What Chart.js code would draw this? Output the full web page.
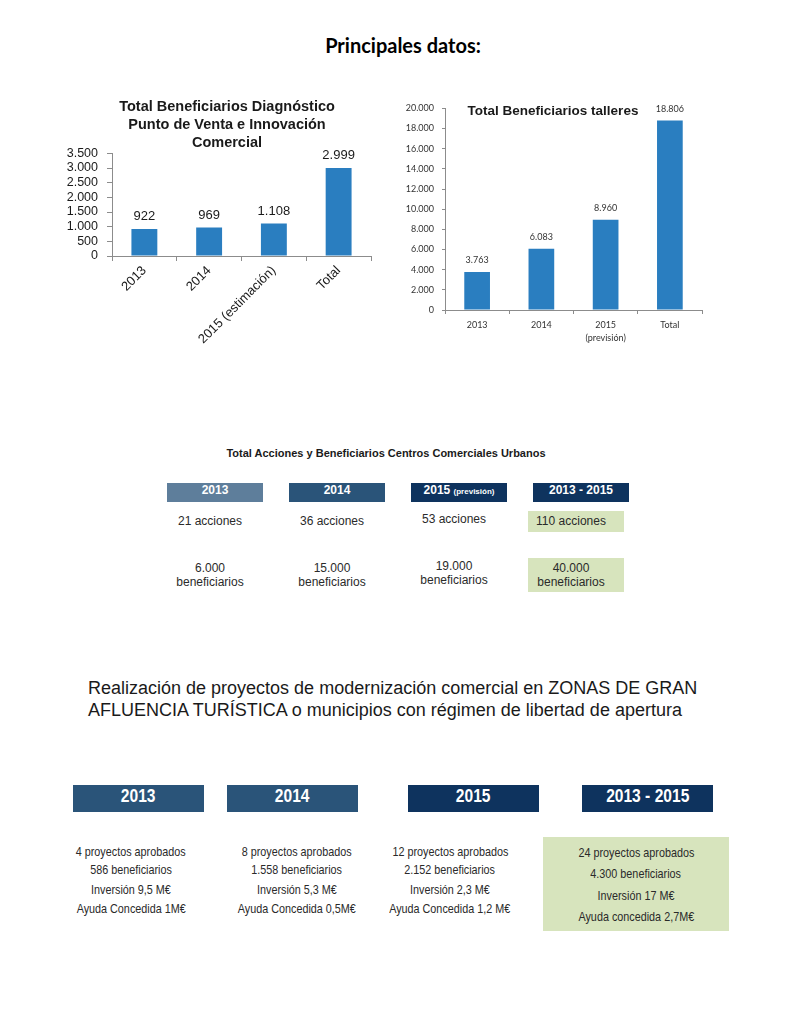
<!DOCTYPE html>
<html lang="es">
<head>
<meta charset="utf-8">
<script src="https://cdn.jsdelivr.net/npm/chart.js@4.4.1/dist/chart.umd.min.js"></script>
<style>
  html, body { margin: 0; padding: 0; background: #ffffff; }
  body { position: relative; width: 785px; height: 1024px; overflow: hidden; font-family: "Liberation Sans", Arial, sans-serif; }
  .abs { position: absolute; white-space: nowrap; }
  .ctr { text-align: center; }
  canvas { position: absolute; }
  .hdr { position: absolute; color: #ffffff; font-weight: bold; text-align: center; }
  .green { position: absolute; background: #d7e4bd; }
  .narrow { display: inline-block; transform: scaleX(0.8); transform-origin: center; }
</style>
</head>
<body>
<script>
// ---------- DATA ----------
const chart1Title = ['Total Beneficiarios Diagnóstico', 'Punto de Venta e Innovación', 'Comercial'];
const chart1Categories = ['2013', '2014', '2015 (estimación)', 'Total'];
const chart1Values = [922, 969, 1108, 2999];
const chart1AxisMax = 3500;
const chart1AxisStep = 500;

const chart2Title = 'Total Beneficiarios talleres';
const chart2Categories = ['2013', '2014', ['2015', '(previsión)'], 'Total'];
const chart2Values = [3763, 6083, 8960, 18806];
const chart2AxisMax = 20000;
const chart2AxisStep = 2000;

const pageTitle = 'Principales datos:';

const ccuTitle = 'Total Acciones y Beneficiarios Centros Comerciales Urbanos';
const ccuHeaders = ['2013', '2014', '2015', '2013 - 2015'];
const ccuHeaderNotes = ['', '', '(previsión)', ''];
const ccuAcciones = ['21 acciones', '36 acciones', '53 acciones', '110 acciones'];
const ccuBeneficiarios = ['6.000', '15.000', '19.000', '40.000'];
const ccuBenefWord = 'beneficiarios';

const zgatTitle = ['Realización de proyectos de modernización comercial en ZONAS DE GRAN',
                   'AFLUENCIA TURÍSTICA o municipios con régimen de libertad de apertura'];
const zgatHeaders = ['2013', '2014', '2015', '2013 - 2015'];
const zgatProyectos = ['4 proyectos aprobados', '8 proyectos aprobados', '12 proyectos aprobados', '24 proyectos aprobados'];
const zgatBeneficiarios = ['586 beneficiarios', '1.558 beneficiarios', '2.152 beneficiarios', '4.300 beneficiarios'];
const zgatInversion = ['Inversión 9,5 M€', 'Inversión 5,3 M€', 'Inversión 2,3 M€', 'Inversión 17 M€'];
const zgatAyuda = ['Ayuda Concedida 1M€', 'Ayuda Concedida 0,5M€', 'Ayuda Concedida 1,2 M€', 'Ayuda concedida 2,7M€'];

// ---------- HELPERS ----------
const fmt = v => String(v).replace(/\B(?=(\d{3})+(?!\d))/g, '.');
function el(tag, cls, css, html) {
  const e = document.createElement(tag);
  if (cls) e.className = cls;
  Object.assign(e.style, css);
  if (html !== undefined) e.innerHTML = html;
  document.body.appendChild(e);
  return e;
}
function textAt(text, cx, cy, font, color, lh) {
  lh = lh || 16;
  return el('div', 'abs ctr', {
    left: (cx - 200) + 'px', width: '400px', top: (cy - lh / 2) + 'px',
    lineHeight: lh + 'px', font: font, color: color || '#333333'
  }, text);
}

// ---------- PAGE TITLE ----------
textAt(pageTitle, 403, 45, 'bold 20px Lato, "Open Sans", sans-serif', '#000000', 24);

// ---------- CHARTS ----------
const BAR = '#2a7ec0';
const AXIS = '#8c8c8c';

const c1 = el('canvas', '', { left: '60px', top: '95px' });
c1.width = 334; c1.height = 261;
const c2 = el('canvas', '', { left: '390px', top: '95px' });
c2.width = 320; c2.height = 260;

function labelPlugin(font, color, gap) {
  return {
    id: 'valLabels',
    afterDatasetsDraw(chart) {
      const ctx = chart.ctx;
      const meta = chart.getDatasetMeta(0);
      const data = chart.data.datasets[0].data;
      ctx.save();
      ctx.font = font;
      ctx.fillStyle = color;
      ctx.textAlign = 'center';
      ctx.textBaseline = 'bottom';
      meta.data.forEach((bar, i) => ctx.fillText(fmt(data[i]), bar.x, bar.y - gap));
      ctx.restore();
    }
  };
}

Chart.defaults.animation = false;

new Chart(c1, {
  type: 'bar',
  data: {
    labels: chart1Categories,
    datasets: [{ data: chart1Values, backgroundColor: BAR, categoryPercentage: 1, barPercentage: 0.4 }]
  },
  options: {
    responsive: false, devicePixelRatio: 1,
    layout: { padding: 0 },
    plugins: {
      legend: { display: false }, tooltip: { enabled: false },
      title: {
        display: true, text: chart1Title, color: '#1a1a1a',
        font: { family: '"Liberation Sans", Arial', size: 14.5, weight: 'bold', lineHeight: 1.25 },
        padding: { top: 3, bottom: 1 }
      }
    },
    scales: {
      x: {
        grid: { display: true, drawOnChartArea: false, drawTicks: true, tickLength: 5, color: AXIS, offset: true },
        border: { display: true, color: AXIS },
        ticks: { minRotation: 45, maxRotation: 45, padding: 2, color: '#1a1a1a', autoSkip: false,
                 font: { family: '"Liberation Sans", Arial', size: 13 } },
        afterFit(s) { s.height = 100; s.paddingLeft = 0; s.paddingRight = 0; }
      },
      y: {
        min: 0, max: chart1AxisMax,
        grid: { display: true, drawOnChartArea: false, drawTicks: true, tickLength: 5, color: AXIS },
        border: { display: true, color: AXIS },
        ticks: { stepSize: chart1AxisStep, padding: 9, color: '#1a1a1a', autoSkip: false, callback: v => fmt(v),
                 font: { family: '"Liberation Sans", Arial', size: 12.5, lineHeight: 1 } },
        afterFit(s) { s.width = 52; }
      },
      yPad: {
        position: 'right', display: true,
        grid: { display: false }, border: { display: false }, ticks: { display: false },
        afterFit(s) { s.width = 23; }
      }
    }
  },
  plugins: [labelPlugin('13px "Liberation Sans", Arial', '#1a1a1a', 6)]
});

new Chart(c2, {
  type: 'bar',
  data: {
    labels: chart2Categories,
    datasets: [{ data: chart2Values, backgroundColor: BAR, categoryPercentage: 1, barPercentage: 0.4 }]
  },
  options: {
    responsive: false, devicePixelRatio: 1,
    layout: { padding: { top: 9, right: 8, left: 0, bottom: 0 } },
    plugins: { legend: { display: false }, tooltip: { enabled: false }, title: { display: false } },
    scales: {
      x: {
        grid: { display: true, drawOnChartArea: false, drawTicks: true, tickLength: 4, color: AXIS, offset: true },
        border: { display: true, color: AXIS },
        ticks: { maxRotation: 0, minRotation: 0, padding: 4, color: '#333333', autoSkip: false,
                 font: { family: 'Lato, "Open Sans", sans-serif', size: 9, lineHeight: 1.5 } },
        afterFit(s) { s.height = 45; s.paddingLeft = 0; s.paddingRight = 0; }
      },
      y: {
        min: 0, max: chart2AxisMax,
        grid: { display: true, drawOnChartArea: false, drawTicks: true, tickLength: 3, color: AXIS },
        border: { display: true, color: AXIS },
        ticks: { stepSize: chart2AxisStep, padding: 8, color: '#333333', autoSkip: false, callback: v => fmt(v),
                 font: { family: 'Lato, "Open Sans", sans-serif', size: 9 } },
        afterFit(s) { s.width = 55; }
      }
    }
  },
  plugins: [labelPlugin('9px Lato, "Open Sans", sans-serif', '#333333', 7)]
});

textAt(chart2Title, 553, 111, 'bold 13.5px "Liberation Sans", Arial', '#1a1a1a', 16);

// ---------- CENTROS COMERCIALES URBANOS ----------
textAt(ccuTitle, 386, 454, 'bold 11px "Liberation Sans", Arial', '#1a1a1a', 14);
const ccuBoxLeft = [167, 289, 411, 533];
const ccuBoxColor = ['#5e7e9b', '#2a5479', '#0e335e', '#0e335e'];
const ccuTextCx = [210, 332, 454, 571];
el('div', 'green', { left: '528px', top: '511px', width: '96px', height: '21px' });
el('div', 'green', { left: '528px', top: '558px', width: '96px', height: '34px' });
ccuHeaders.forEach((h, i) => {
  const note = ccuHeaderNotes[i] ? ' <span style="font-size:8px">' + ccuHeaderNotes[i] + '</span>' : '';
  el('div', 'hdr', {
    left: ccuBoxLeft[i] + 'px', top: '483px', width: '96px', height: '19px', lineHeight: '19px',
    background: ccuBoxColor[i], font: 'bold 12px "Liberation Sans", Arial'
  }, h + note);
  const dy = i === 2 ? -2 : 0;
  textAt(ccuAcciones[i], ccuTextCx[i], 522 + dy, '12px "Liberation Sans", Arial', '#2a2a2a', 16);
  textAt(ccuBeneficiarios[i], ccuTextCx[i], 568 + dy, '12px "Liberation Sans", Arial', '#2a2a2a', 14);
  textAt(ccuBenefWord, ccuTextCx[i], 582 + dy, '12px "Liberation Sans", Arial', '#2a2a2a', 14);
});

// ---------- ZONAS DE GRAN AFLUENCIA TURÍSTICA ----------
el('div', 'abs', { left: '88px', top: '677px', font: '18px "Liberation Sans", Arial', lineHeight: '22px', color: '#1a1a1a' },
   zgatTitle.join('<br>'));
const zBoxLeft = [73, 227, 408, 582];
const zBoxColor = ['#2a5479', '#2a5479', '#0e335e', '#0e335e'];
const zTextCx = [131, 297, 450, 636];
el('div', 'green', { left: '543px', top: '837px', width: '186px', height: '94px' });
zgatHeaders.forEach((h, i) => {
  el('div', 'hdr', {
    left: zBoxLeft[i] + 'px', top: '785px', width: '131px', height: '27px', lineHeight: '27px',
    background: zBoxColor[i], font: 'bold 19px "Liberation Sans", Arial'
  }, '<span class="narrow" style="transform:scaleX(0.82)">' + h + '</span>');
  const ys = i === 3 ? [853, 874, 896, 917] : [852, 870, 890, 909];
  const rows = [zgatProyectos[i], zgatBeneficiarios[i], zgatInversion[i], zgatAyuda[i]];
  rows.forEach((t, k) => textAt('<span class="narrow">' + t + '</span>', zTextCx[i], ys[k],
                               '13.5px "Liberation Sans", Arial', '#2a2a2a', 16));
});
</script>
</body>
</html>
